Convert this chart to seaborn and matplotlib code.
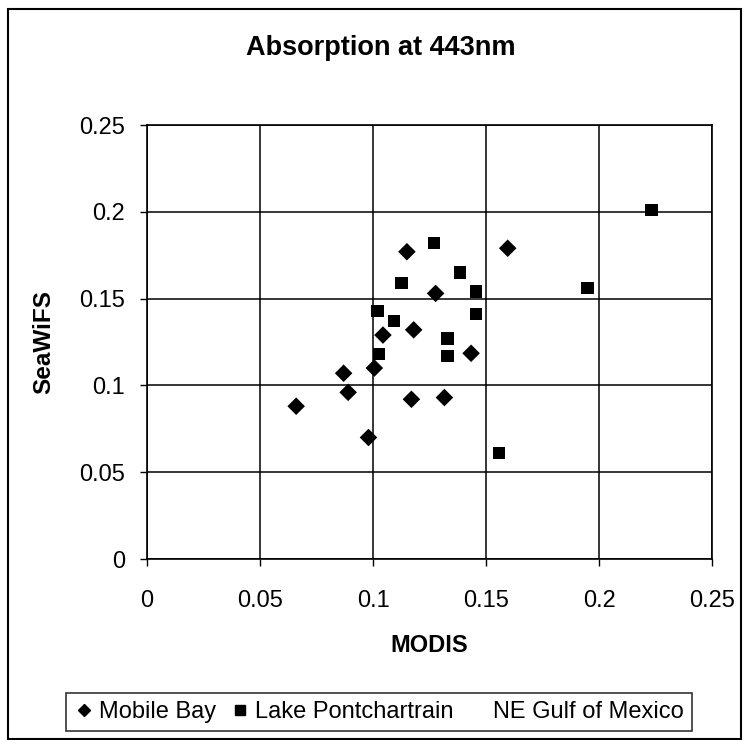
import matplotlib
matplotlib.use('Agg')
import matplotlib.pyplot as plt
import pandas as pd
import seaborn as sns
from matplotlib.lines import Line2D
from matplotlib.patches import Rectangle

# values
mobile_x = [0.066, 0.087, 0.089, 0.098, 0.1006, 0.1044, 0.115, 0.117, 0.118, 0.1277, 0.1316, 0.1434, 0.1596]
mobile_y = [0.088, 0.107, 0.096, 0.070, 0.110, 0.129, 0.177, 0.092, 0.132, 0.153, 0.093, 0.1185, 0.179]
lake_x = [0.102, 0.1027, 0.1094, 0.1127, 0.1271, 0.133, 0.133, 0.1384, 0.1457, 0.1457, 0.1558, 0.195, 0.2233]
lake_y = [0.143, 0.118, 0.137, 0.159, 0.182, 0.127, 0.117, 0.165, 0.154, 0.141, 0.061, 0.156, 0.201]
ticks = [0, 0.05, 0.1, 0.15, 0.2, 0.25]
tick_labels = ['0', '0.05', '0.1', '0.15', '0.2', '0.25']

df = pd.DataFrame({
    'MODIS': mobile_x + lake_x,
    'SeaWiFS': mobile_y + lake_y,
    'site': ['Mobile Bay'] * len(mobile_x) + ['Lake Pontchartrain'] * len(lake_x),
})

sns.set_style('white')
plt.rcParams['font.family'] = ['Liberation Sans', 'DejaVu Sans']
plt.rcParams['text.color'] = 'black'
plt.rcParams['axes.labelcolor'] = 'black'
plt.rcParams['xtick.color'] = 'black'
plt.rcParams['ytick.color'] = 'black'

fig = plt.figure(figsize=(7.47, 7.40), dpi=100)
ax = fig.add_axes([147 / 747, 1 - 559 / 740, 565 / 747, 434 / 740])

sns.scatterplot(data=df, x='MODIS', y='SeaWiFS', style='site',
                markers={'Mobile Bay': 'D', 'Lake Pontchartrain': 's'},
                s=80, color='black', edgecolor='black',
                linewidth=0, legend=False, ax=ax, zorder=3)

ax.set_xlim(0, 0.25)
ax.set_ylim(0, 0.25)
ax.set_xticks(ticks)
ax.set_yticks(ticks)
ax.set_xticklabels(tick_labels, fontsize=17)
ax.set_yticklabels(tick_labels, fontsize=17)
ax.tick_params(axis='x', direction='out', length=5, width=1, pad=17, bottom=True)
ax.tick_params(axis='y', direction='out', length=5, width=1, pad=11, left=True)
ax.grid(True, color='black', linewidth=1.1)
for sp in ax.spines.values():
    sp.set_color('black')
    sp.set_linewidth(1.2)
ax.set_xlabel('MODIS', fontsize=17, fontweight='bold', labelpad=16)
ax.set_ylabel('SeaWiFS', fontsize=17.5, fontweight='bold', labelpad=17)

fig.text(381 / 747, 1 - 48 / 740, 'Absorption at 443nm', ha='center', va='center',
         fontsize=19.5, fontweight='bold')

handles = [
    Line2D([], [], marker='D', color='black', linestyle='none', markersize=6),
    Line2D([], [], marker='s', color='black', linestyle='none', markersize=7),
    Line2D([], [], marker='^', color='white', markeredgecolor='white', linestyle='none', markersize=7),
]
leg = fig.legend(handles, ['Mobile Bay', 'Lake Pontchartrain', 'NE Gulf of Mexico'],
                 loc='center', bbox_to_anchor=(379 / 747, 1 - 712 / 740), ncol=3,
                 fontsize=17, frameon=True, fancybox=False, borderpad=0.35,
                 handletextpad=0.25, columnspacing=0.6, handlelength=0.8)
leg.get_frame().set_edgecolor('black')
leg.get_frame().set_linewidth(1.2)

fig.patches.append(Rectangle((8 / 747, 1 - 739 / 740), 733 / 747, 730 / 740,
                             transform=fig.transFigure, fill=False,
                             edgecolor='black', linewidth=1.5))

fig.savefig('out.png', dpi=100)
